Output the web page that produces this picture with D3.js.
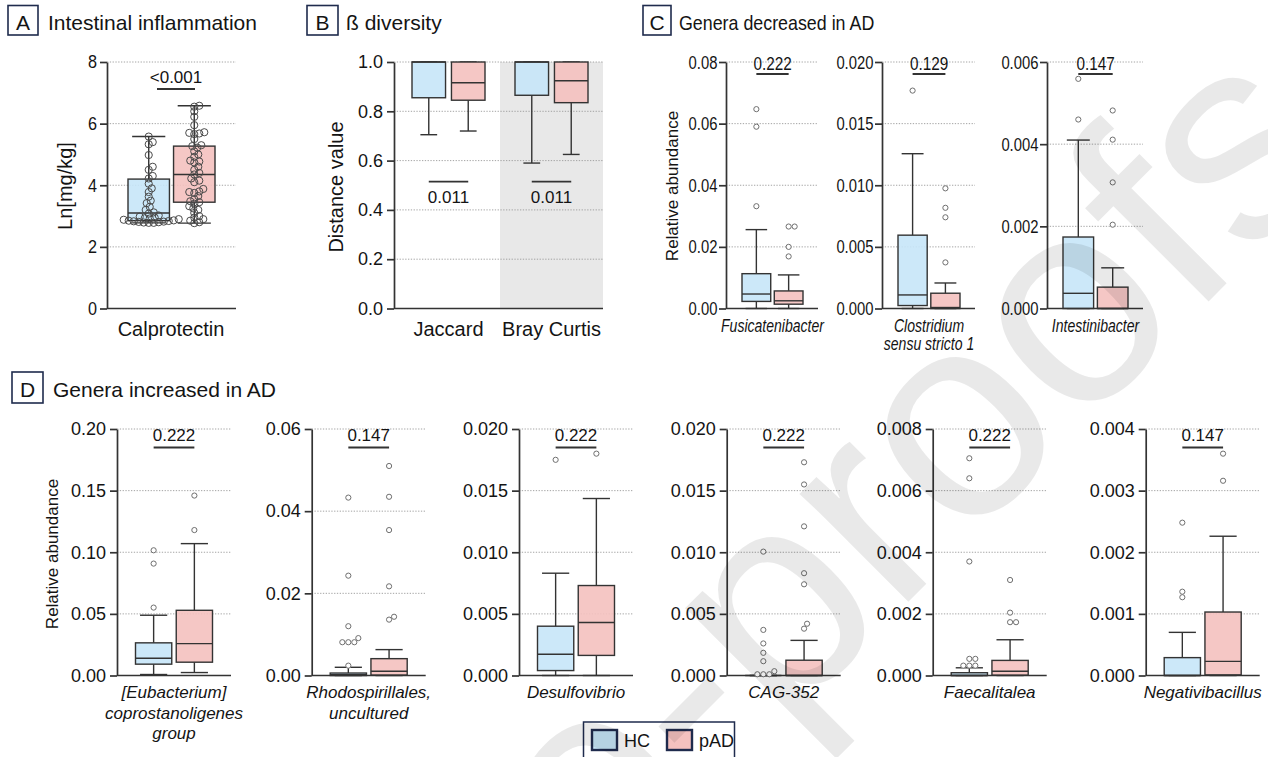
<!DOCTYPE html>
<html><head><meta charset="utf-8">
<script src="https://cdn.jsdelivr.net/npm/d3@7"></script>
<style>
body{margin:0;background:#fff}
svg{display:block}
text{font-family:"Liberation Sans",Arial,Helvetica,sans-serif;fill:#141414}
</style>
</head><body>
<svg id="chart" width="1268" height="757"></svg>
<script>
// ================= DATA =================
const groups = ["HC", "pAD"];
const legendLabels = ["HC", "pAD"];
const panelLetters = ["A", "B", "C", "D"];
const panelTitles = ["Intestinal inflammation", "ß diversity", "Genera decreased in AD", "Genera increased in AD"];

// Panel A – calprotectin (Ln[mg/kg])
const calproCategory = "Calprotectin";
const calproTicks = [0, 2, 4, 6, 8];
const calproHC = [5.58, 5.4, 5.33, 4.98, 4.6, 4.5, 4.3, 4.22, 4.05, 3.9, 3.78, 3.63, 3.5, 3.42, 3.3, 3.2, 3.12,
  3.08, 3.02, 2.98, 2.95, 2.93, 2.92, 2.9, 2.88, 2.86, 2.85, 2.84, 2.83, 2.82, 2.81, 2.8, 2.79, 2.78, 2.78];
const calproPAD = [6.58, 6.55, 6.4, 6.22, 5.95, 5.72, 5.7, 5.68, 5.66, 5.5, 5.3, 5.27, 5.22, 5.1, 5.0, 4.92, 4.8,
  4.77, 4.74, 4.6, 4.5, 4.4, 4.35, 4.22, 4.15, 4.1, 3.88, 3.8, 3.78, 3.75, 3.65, 3.55, 3.48, 3.45, 3.4, 3.32,
  3.25, 3.2, 3.1, 3.0, 2.95, 2.9, 2.85, 2.8, 2.77];
const calproBoxHC = [2.78, 2.85, 3.1, 4.2, 5.58];   // min, q1, median, q3, max
const calproBoxPAD = [2.77, 3.45, 4.35, 5.27, 6.58];
const calproP = "<0.001";

// Panel B – beta diversity
const betaCategories = ["Jaccard", "Bray Curtis"];
const betaTicks = [0, 0.2, 0.4, 0.6, 0.8, 1.0];
const betaBoxHC = [[0.705, 0.855, 1.0, 1.0, 1.0], [0.59, 0.865, 1.0, 1.0, 1.0]];
const betaBoxPAD = [[0.72, 0.845, 0.916, 1.0, 1.0], [0.625, 0.835, 0.924, 1.0, 1.0]];
const betaP = ["0.011", "0.011"];

// Panel C – genera decreased in AD (relative abundance)
const genusC = ["Fusicatenibacter", "Clostridium sensu stricto 1", "Intestinibacter"];
const genusCLines = [["Fusicatenibacter"], ["Clostridium", "sensu stricto 1"], ["Intestinibacter"]];
const cTicks = [[0, 0.02, 0.04, 0.06, 0.08], [0, 0.005, 0.01, 0.015, 0.02], [0, 0.002, 0.004, 0.006]];
const cDecimals = [2, 3, 3];
const cBoxHC = [[0, 0.0023, 0.0047, 0.0113, 0.0256], [0, 0.00024, 0.0011, 0.00595, 0.01256], [0, 0, 0.00037, 0.00174, 0.0041]];
const cBoxPAD = [[0, 0.0014, 0.0025, 0.0057, 0.0109], [0, 0, 0.00008, 0.00124, 0.00207], [0, 0, 0, 0.00052, 0.00099]];
const cOutHC = [[0.0647, 0.059, 0.0332], [0.01768], [0.00559, 0.0046]];
const cOutPAD = [[0.0266, 0.0266, 0.02, 0.0169], [0.00975, 0.00817, 0.0074, 0.00374], [0.00482, 0.00411, 0.00307, 0.00204]];
const cP = ["0.222", "0.129", "0.147"];

// Panel D – genera increased in AD (relative abundance)
const genusD = ["[Eubacterium] coprostanoligenes group", "Rhodospirillales, uncultured", "Desulfovibrio", "CAG-352", "Faecalitalea", "Negativibacillus"];
const genusDLines = [["[Eubacterium]", "coprostanoligenes", "group"], ["Rhodospirillales,", "uncultured"], ["Desulfovibrio"], ["CAG-352"], ["Faecalitalea"], ["Negativibacillus"]];
const dTicks = [[0, 0.05, 0.10, 0.15, 0.20], [0, 0.02, 0.04, 0.06], [0, 0.005, 0.01, 0.015, 0.02],
  [0, 0.005, 0.01, 0.015, 0.02], [0, 0.002, 0.004, 0.006, 0.008], [0, 0.001, 0.002, 0.003, 0.004]];
const dDecimals = [2, 2, 3, 3, 3, 3];
const dBoxHC = [[0.0008, 0.0092, 0.014, 0.0265, 0.0489], [0, 0, 0.0002, 0.0006, 0.002], [0, 0.0004, 0.00173, 0.004, 0.0083],
  [0, 0, 0, 0, 0], [0, 0, 0, 0.00009, 0.00025], [0, 0, 0, 0.00029, 0.0007]];
const dBoxPAD = [[0.0024, 0.0108, 0.0259, 0.0529, 0.107], [0, 0.0001, 0.00105, 0.0041, 0.0063], [0, 0.00163, 0.0043, 0.0073, 0.01436],
  [0, 0, 0, 0.00124, 0.00285], [0, 0.00001, 0.00014, 0.00049, 0.00116], [0, 0.00001, 0.00023, 0.00103, 0.00226]];
const dOutHC = [[0.1016, 0.0908, 0.0551], [0.0433, 0.0243, 0.012, 0.0091, 0.0081, 0.0081, 0.0081, 0.0024], [0.0175],
  [0.01005, 0.0037, 0.0026, 0.00184, 0.00116, 0.00035, 0.0001, 0.0001, 0.0001],
  [0.00705, 0.0064, 0.0037, 0.00054, 0.00054, 0.00032, 0.00032, 0.00032], [0.00248, 0.00136, 0.00127]];
const dOutPAD = [[0.146, 0.118], [0.051, 0.0435, 0.0354, 0.0217, 0.0143, 0.0136], [0.018],
  [0.0173, 0.0155, 0.0121, 0.0083, 0.0074, 0.0042, 0.0038], [0.0031, 0.00204, 0.00173, 0.00173], [0.0036, 0.00316]];
const dP = ["0.222", "0.147", "0.222", "0.222", "0.222", "0.147"];

const yLabelA = "Ln[mg/kg]";
const yLabelB = "Distance value";
const yLabelCD = "Relative abundance";
const watermark = "Journal Pre-proofs";

// ================= STYLE / HELPERS =================
const INK = "#333", NAVY = "#1f2b4d", GRID = "#9a9a9a";
const fills = {HC: "#c7e6f8", pAD: "#f4c1bf"};
const svg = d3.select("#chart");

function txt(g, x, y, str, o = {}) {
  const {size = 18, anchor = "middle", sx = 1, italic = false, rotate = 0} = o;
  const t = g.append("text")
    .attr("transform", `translate(${x},${y}) rotate(${rotate}) scale(${sx},1)`)
    .attr("text-anchor", anchor).style("font-size", size + "px").text(str);
  if (italic) t.style("font-style", "italic");
  return t;
}

function swarm(values, cx, y, minDist, step) {
  const placed = [];
  return values.slice().sort((a, b) => a - b).map(v => {
    const py = y(v);
    let px = cx;
    for (let i = 0; i < 400; i++) {
      const off = i === 0 ? 0 : (i % 2 ? 1 : -1) * Math.ceil(i / 2) * step;
      px = cx + off;
      if (placed.every(p => Math.hypot(p[0] - px, p[1] - py) >= minDist)) break;
    }
    placed.push([px, py]);
    return [px, py];
  });
}

function drawBox(g, cx, bw, y, s, fill, capRatio) {
  const [mn, q1, md, q3, mx] = s;
  const cw = bw * capRatio;
  const L = (x1, y1, x2, y2) => g.append("line").attr("x1", x1).attr("y1", y1).attr("x2", x2).attr("y2", y2)
    .attr("stroke", INK).attr("stroke-width", 1.4);
  L(cx, y(q3), cx, y(mx)); L(cx, y(q1), cx, y(mn));
  L(cx - cw / 2, y(mx), cx + cw / 2, y(mx)); L(cx - cw / 2, y(mn), cx + cw / 2, y(mn));
  g.append("rect").attr("x", cx - bw / 2).attr("y", y(q3)).attr("width", bw).attr("height", Math.max(0, y(q1) - y(q3)))
    .attr("fill", fill).attr("fill-opacity", 0.9).attr("stroke", INK).attr("stroke-width", 1.4);
  L(cx - bw / 2, y(md), cx + bw / 2, y(md));
}

function grid(g, y, ticks, x1, x2) {
  g.selectAll(null).data(ticks.filter(t => t > 0)).join("line")
    .attr("x1", x1).attr("x2", x2).attr("y1", d => y(d)).attr("y2", d => y(d))
    .attr("stroke", GRID).attr("stroke-width", 0.9).attr("stroke-dasharray", "1.3,1.5");
}

function axes(g, y, ticks, fmt, axisX, xEnd, bot, tsize, tsx) {
  const ax = g.append("g").attr("transform", `translate(${axisX},0)`)
    .call(d3.axisLeft(y).tickValues(ticks).tickFormat(d3.format(fmt)).tickSize(7).tickSizeOuter(0).tickPadding(4));
  ax.select(".domain").attr("stroke", INK).attr("stroke-width", 1.7);
  ax.selectAll(".tick line").attr("stroke", INK).attr("stroke-width", 1.7);
  ax.selectAll(".tick text").style("font-size", tsize + "px").attr("transform", `scale(${tsx},1)`);
  g.append("line").attr("x1", axisX).attr("x2", xEnd).attr("y1", bot).attr("y2", bot)
    .attr("stroke", INK).attr("stroke-width", 1.7);
}

function points(g, vals, cx, y, r, minDist, step, stroke, fill) {
  g.selectAll(null).data(swarm(vals, cx, y, minDist, step)).join("circle")
    .attr("cx", d => d[0]).attr("cy", d => d[1]).attr("r", r)
    .attr("fill", fill).attr("stroke", stroke).attr("stroke-width", 1);
}

function sig(g, x1, x2, lineY, textY, p, size, sx) {
  g.append("line").attr("x1", x1).attr("x2", x2).attr("y1", lineY).attr("y2", lineY)
    .attr("stroke", INK).attr("stroke-width", 1.8);
  txt(g, (x1 + x2) / 2, textY, p, {size, sx});
}

function panelHeader(x, y, w, h, letter, title, tx, ty, tsx) {
  svg.append("rect").attr("x", x).attr("y", y).attr("width", w).attr("height", h)
    .attr("fill", "none").attr("stroke", NAVY).attr("stroke-width", 1.6);
  txt(svg, x + w / 2, ty, letter, {size: 21});
  txt(svg, tx, ty, title, {size: 21, anchor: "start", sx: tsx});
}

// generic relative-abundance subplot
function subplot(o) {
  const g = svg.append("g");
  const y = d3.scaleLinear().domain([0, d3.max(o.ticks)]).range([o.bot, o.top]);
  const x = d3.scaleBand().domain(groups).range([o.axisX + o.inL, o.xEnd - o.inR]).paddingInner(0.11);
  const bw = x.bandwidth();
  grid(g, y, o.ticks, o.axisX, o.xEnd);
  const boxes = [o.boxHC, o.boxPAD];
  groups.forEach((k, i) => drawBox(g, x(k) + bw / 2, bw, y, boxes[i], fills[k], 0.75));
  axes(g, y, o.ticks, `.${o.dec}f`, o.axisX, o.xEnd, o.bot, o.tsize, o.tsx);
  const outs = [o.outHC, o.outPAD];
  groups.forEach((k, i) => points(g, outs[i], x(k) + bw / 2, y, 2.6, 5.4, 1, "#6f6f6f", "#fff"));
  sig(g, x("HC") + bw / 2, x("pAD") + bw / 2, o.sigLineY, o.sigTextY, o.p, o.sigSize, o.sigSx);
  const mid = (x("HC") + x("pAD") + bw) / 2;
  o.lines.forEach((l, j) => txt(g, mid, o.labY + j * o.labDy, l, {size: o.labSize, sx: o.labSx, italic: true}));
}

// ================= PANEL A =================
(function () {
  const g = svg.append("g");
  const top = 62, bot = 308.5, axisX = 107, xEnd = 236;
  const y = d3.scaleLinear().domain([0, 8]).range([bot, top]);
  const x = d3.scaleBand().domain(groups).range([128, 215]).paddingInner(0.09);
  const bw = x.bandwidth();
  grid(g, y, calproTicks, axisX, xEnd);
  const boxes = [calproBoxHC, calproBoxPAD];
  groups.forEach((k, i) => drawBox(g, x(k) + bw / 2, bw, y, boxes[i], fills[k], 0.8));
  axes(g, y, calproTicks, "d", axisX, xEnd, bot, 18, 0.9);
  const vals = [calproHC, calproPAD];
  groups.forEach((k, i) => points(g, vals[i], x(k) + bw / 2, y, 3.6, 4.4, 1, "#4a4a4a", "none"));
  sig(g, 157, 195, 89, 82.5, calproP, 17, 1);
  txt(g, 171, 336, calproCategory, {size: 20});
  txt(g, 72, 186, yLabelA, {size: 20, rotate: -90});
})();

// ================= PANEL B =================
(function () {
  const g = svg.append("g");
  const top = 62, bot = 308.5, axisX = 394, xEnd = 603;
  const y = d3.scaleLinear().domain([0, 1]).range([bot, top]);
  const xc = d3.scaleBand().domain(betaCategories).range([397, 603]).padding(0);
  const cw = xc.bandwidth();
  g.append("rect").attr("x", xc(betaCategories[1])).attr("y", top).attr("width", cw).attr("height", bot - top)
    .attr("fill", "#e8e8e8");
  grid(g, y, betaTicks, axisX, xEnd);
  betaCategories.forEach((c, ci) => {
    const x = d3.scaleBand().domain(groups).range([xc(c) + 15, xc(c) + cw - 15]).paddingInner(0.15);
    const bw = x.bandwidth();
    const boxes = [betaBoxHC[ci], betaBoxPAD[ci]];
    groups.forEach((k, i) => drawBox(g, x(k) + bw / 2, bw, y, boxes[i], fills[k], 0.5));
    sig(g, x("HC") + bw / 2, x("pAD") + bw / 2, 181.7, 203, betaP[ci], 17, 1);
    txt(g, xc(c) + cw / 2, 336, c, {size: 20});
  });
  axes(g, y, betaTicks, ".1f", axisX, xEnd, bot, 18, 1);
  txt(g, 343, 187, yLabelB, {size: 20, rotate: -90});
})();

// ================= PANEL C =================
const cLayout = [{axisX: 726, xEnd: 818}, {axisX: 882, xEnd: 975}, {axisX: 1047, xEnd: 1143}];
genusC.forEach((name, i) => subplot({
  axisX: cLayout[i].axisX, xEnd: cLayout[i].xEnd, inL: 16, inR: 15, top: 62, bot: 308.5,
  ticks: cTicks[i], dec: cDecimals[i], boxHC: cBoxHC[i], boxPAD: cBoxPAD[i], outHC: cOutHC[i], outPAD: cOutPAD[i],
  p: cP[i], sigLineY: 74, sigTextY: 69.5, sigSize: 18, sigSx: 0.85, tsize: 19, tsx: 0.78,
  lines: genusCLines[i], labY: 332, labDy: 18, labSize: 18, labSx: 0.78
}));
txt(svg, 678, 186, yLabelCD, {size: 17, rotate: -90, sx: 1});

// ================= PANEL D =================
const dAxisX = [117, 311.7, 519, 726.7, 932.7, 1145.7];
genusD.forEach((name, i) => subplot({
  axisX: dAxisX[i], xEnd: dAxisX[i] + 114, inL: 18.5, inR: 18.5, top: 429, bot: 675.5,
  ticks: dTicks[i], dec: dDecimals[i], boxHC: dBoxHC[i], boxPAD: dBoxPAD[i], outHC: dOutHC[i], outPAD: dOutPAD[i],
  p: dP[i], sigLineY: 447.5, sigTextY: 441, sigSize: 17, sigSx: 1, tsize: 18, tsx: 1,
  lines: genusDLines[i], labY: 698, labDy: 20.5, labSize: 17, labSx: 1
}));
txt(svg, 58, 554, yLabelCD, {size: 17, rotate: -90});

// ================= HEADERS =================
panelHeader(8, 5.5, 30, 29.5, panelLetters[0], panelTitles[0], 48, 29.5, 1);
panelHeader(307, 5.5, 31, 29.5, panelLetters[1], panelTitles[1], 346, 29.5, 1);
panelHeader(643, 5.5, 28, 29.5, panelLetters[2], panelTitles[2], 679, 29.5, 0.85);
panelHeader(12, 372, 31, 31, panelLetters[3], panelTitles[3], 53, 396.5, 1);

// ================= LEGEND =================
(function () {
  const g = svg.append("g");
  g.append("rect").attr("x", 583.5).attr("y", 722).attr("width", 151).attr("height", 45)
    .attr("fill", "#fff").attr("stroke", NAVY).attr("stroke-width", 1.5);
  const lx = d3.scaleOrdinal().domain(legendLabels).range([592, 667]);
  legendLabels.forEach(k => {
    g.append("rect").attr("x", lx(k)).attr("y", 730).attr("width", 25).attr("height", 20)
      .attr("fill", fills[k]).attr("stroke", NAVY).attr("stroke-width", 2.4);
    txt(g, lx(k) + 32, 747, k, {size: 18, anchor: "start"});
  });
})();

// ================= WATERMARK =================
svg.append("text").attr("transform", "translate(1350,160) rotate(-45)")
  .attr("text-anchor", "end").style("font-size", "290px")
  .style("fill", "#000").style("fill-opacity", 0.085)
  .text(watermark);
</script>
</body></html>
